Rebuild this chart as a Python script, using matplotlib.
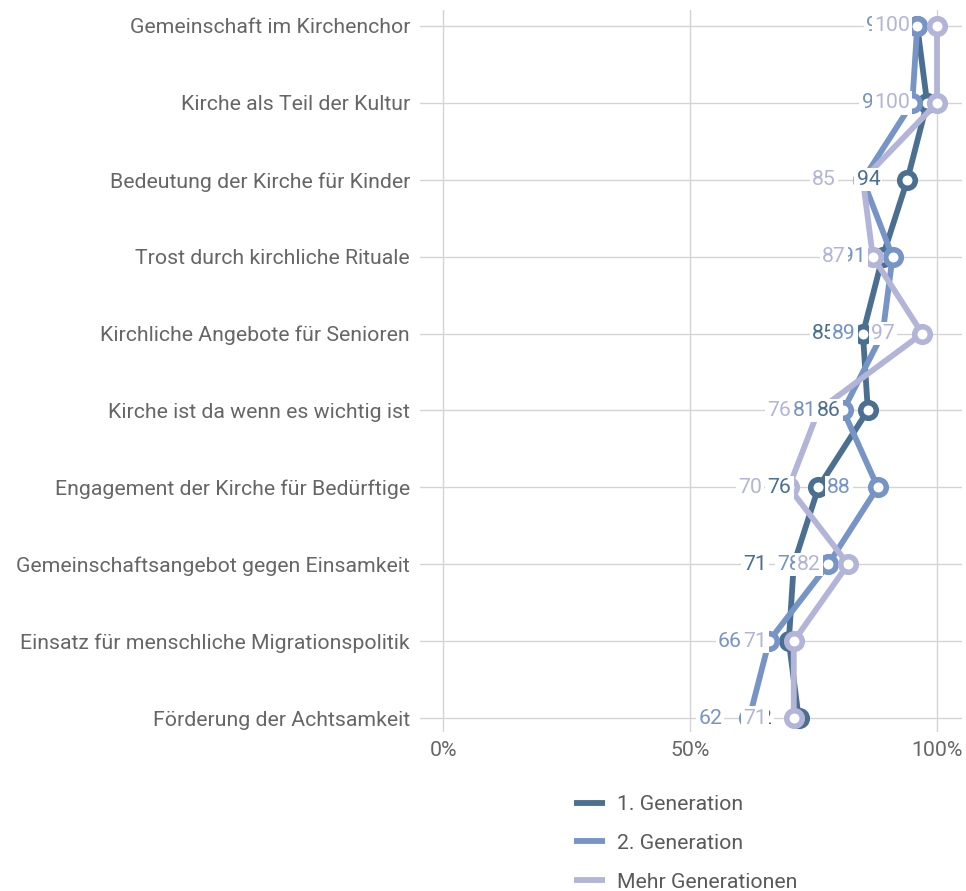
import matplotlib
matplotlib.use("Agg")
import matplotlib.pyplot as plt
from matplotlib.lines import Line2D

plt.rcParams['font.family'] = ['Roboto', 'DejaVu Sans']

categories = ["Gemeinschaft im Kirchenchor", "Kirche als Teil der Kultur",
              "Bedeutung der Kirche für Kinder", "Trost durch kirchliche Rituale",
              "Kirchliche Angebote für Senioren", "Kirche ist da wenn es wichtig ist",
              "Engagement der Kirche für Bedürftige", "Gemeinschaftsangebot gegen Einsamkeit",
              "Einsatz für menschliche Migrationspolitik", "Förderung der Achtsamkeit"]
series_names = ["1. Generation", "2. Generation", "Mehr Generationen"]
gen1 = [96, 98, 94, 89, 85, 86, 76, 71, 70, 72]
gen2 = [96, 95, 85, 91, 89, 81, 88, 78, 66, 62]
mehr = [100, 100, 85, 87, 97, 76, 70, 82, 71, 71]
colors = ["#4a6f90", "#7694c6", "#b3b5d8"]
xticks = [0, 50, 100]
xticklabels = ["0%", "50%", "100%"]

FS = 15.3
W, H = 966, 891
fig = plt.figure(figsize=(W / 100, H / 100), dpi=100)
ax = fig.add_axes([420 / W, 1 - 732 / H, (962 - 420) / W, (732 - 10) / H])

ypos = list(range(len(categories)))
for vals, col, name in zip([gen1, gen2, mehr], colors, series_names):
    ax.plot(vals, ypos, color=col, lw=4.2, marker='o', ms=11.2, mew=4.0,
            mfc='white', mec=col, zorder=3, solid_joinstyle='miter')

for vals, col in zip([gen1, gen2, mehr], colors):
    for v, y in zip(vals, ypos):
        ax.annotate(str(v), (v, y), xytext=(-27, 0), textcoords='offset pixels',
                    ha='right', va='center', color=col, fontsize=FS, zorder=5,
                    bbox=dict(boxstyle='square,pad=0.1', fc='white', ec='none'))

ax.set_xlim(-4.66, 105.06)
ax.set_ylim(9.182, -0.208)
ax.set_yticks(ypos)
ax.set_yticklabels(categories)
ax.set_xticks(xticks)
ax.set_xticklabels(xticklabels)
ax.tick_params(axis='both', length=0, labelsize=FS, labelcolor='#666666')
ax.tick_params(axis='y', pad=7.2)
ax.tick_params(axis='x', pad=6.5)
for s in ax.spines.values():
    s.set_visible(False)
ax.grid(True, color='#d4d4d4', lw=1.0, zorder=0)
ax.set_axisbelow(True)

handles = [Line2D([], [], color=c, lw=4.2, solid_capstyle='butt') for c in colors]
fig.legend(handles, series_names, loc='upper left',
           bbox_to_anchor=(555 / W, 1 - 776 / H), frameon=False,
           fontsize=FS, labelcolor='#5a5a5a', handlelength=1.45,
           handletextpad=0.56, labelspacing=0.93)

fig.savefig("out.png", dpi=100)
